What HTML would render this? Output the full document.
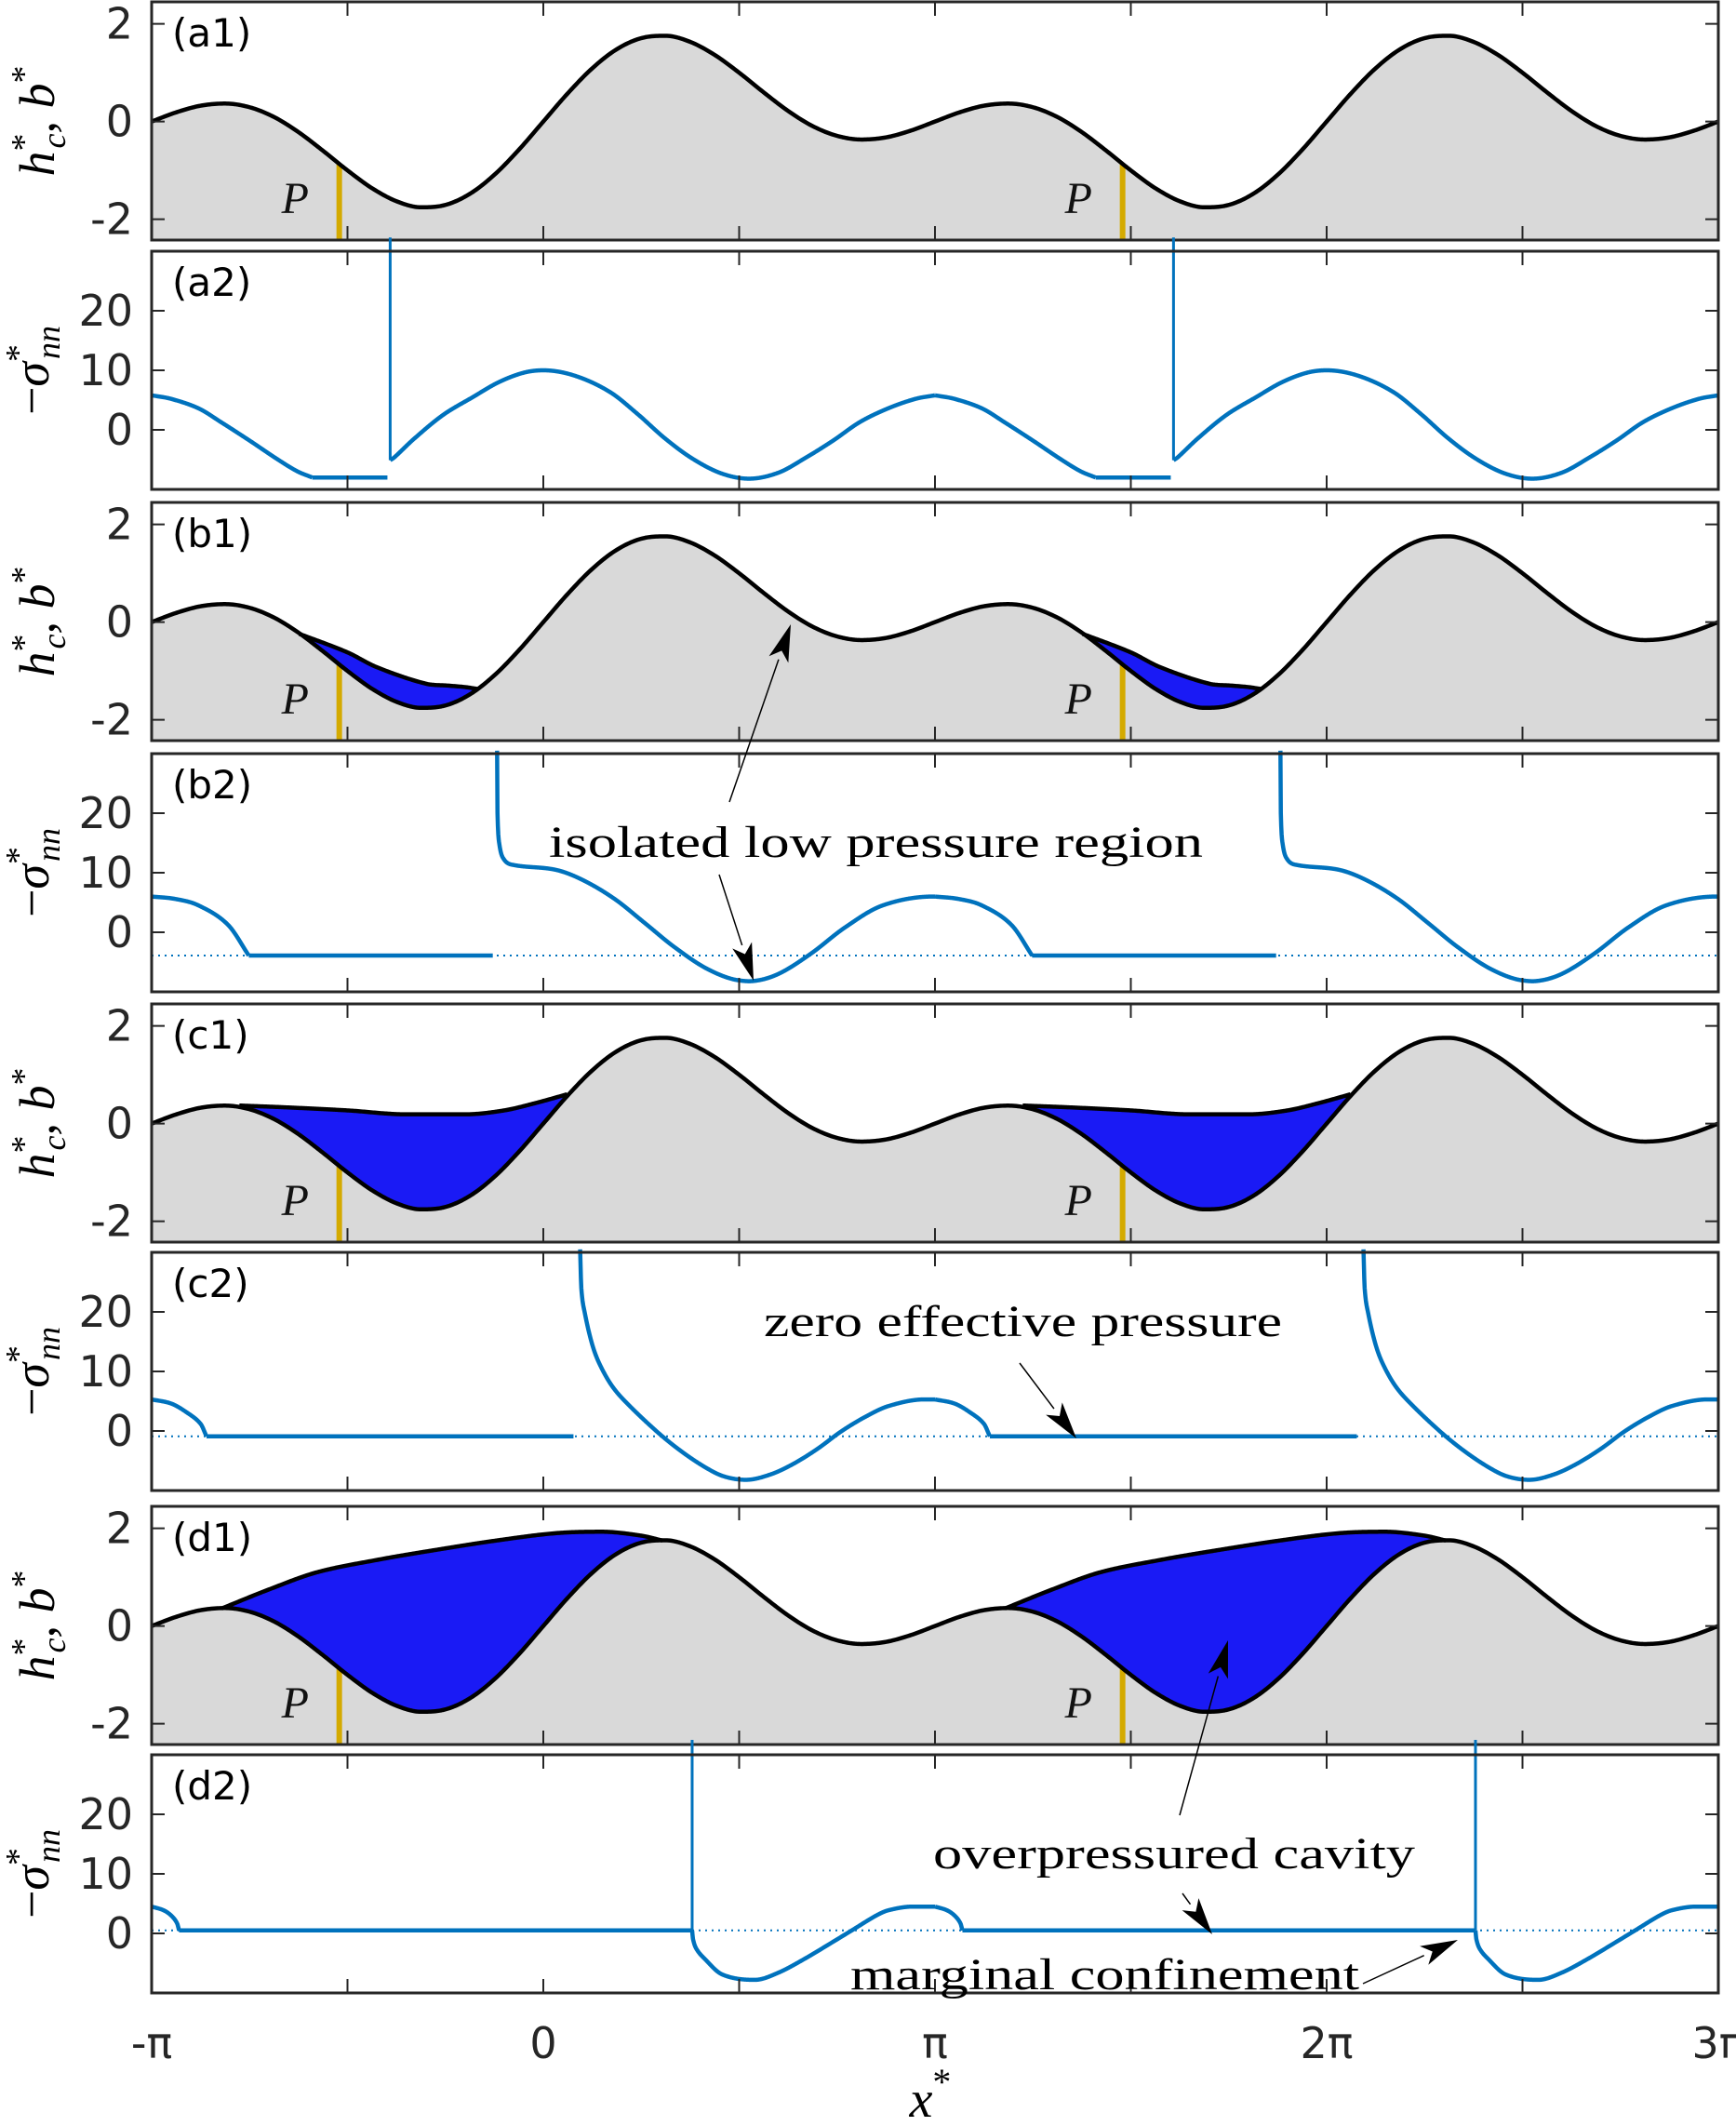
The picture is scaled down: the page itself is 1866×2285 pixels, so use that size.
<!DOCTYPE html>
<html><head><meta charset="utf-8"><style>
html,body{margin:0;padding:0;background:#fff;}
svg{display:block;}
</style></head><body>
<svg id="fig" width="1866" height="2285" viewBox="0 0 1866 2285" xmlns="http://www.w3.org/2000/svg"></svg>
<script>
// ---------- data (x in units of pi) ----------
const bedX = [];
for (let k = 0; k <= 64; k++) bedX.push(-1 + k / 16);
const bedY = [0,0.188,0.324,0.368,0.293,0.093,-0.217,-0.598,-1,-1.364,-1.631,-1.755,-1.707,-1.480,-1.090,-0.578,
  0,0.578,1.090,1.480,1.707,1.755,1.631,1.364,1,0.598,0.217,-0.093,-0.293,-0.368,-0.324,-0.188,
  0,0.188,0.324,0.368,0.293,0.093,-0.217,-0.598,-1,-1.364,-1.631,-1.755,-1.707,-1.480,-1.090,-0.578,
  0,0.578,1.090,1.480,1.707,1.755,1.631,1.364,1,0.598,0.217,-0.093,-0.293,-0.368,-0.324,-0.188,0];
const pointP = [-0.521, 1.479];
const periodShift = [0, 2];

const cavB1X = [-0.623,-0.5,-0.426,-0.3,-0.243,-0.2,-0.167];
const cavB1Y = [-0.24,-0.62,-0.92,-1.26,-1.30,-1.33,-1.37];
const cavC1X = [-0.776,-0.65,-0.5,-0.35,-0.2,-0.1,-0.02,0.061];
const cavC1Y = [0.37,0.33,0.27,0.19,0.19,0.27,0.42,0.60];
const cavD1X = [-0.821,-0.7,-0.578,-0.42,-0.273,-0.12,0.031,0.15,0.25,0.304];
const cavD1Y = [0.36,0.75,1.10,1.36,1.56,1.75,1.90,1.93,1.85,1.75];

const a2AX = [-1,-0.95,-0.88,-0.823,-0.75,-0.682,-0.63,-0.59];
const a2AY = [5.8,5.2,3.6,1.3,-1.8,-4.8,-6.9,-8.0];
const a2Flat = [-0.59,-0.398,-8.0];
const a2Spike = [-0.391,32.3,-5.1];
const a2BX = [-0.391,-0.38,-0.33,-0.256,-0.18,-0.114,-0.05,0,0.08,0.169,0.24,0.31,0.38,0.454,0.525,0.6,0.667,0.74,0.808,0.88,0.95,1.0];
const a2BY = [-5.1,-4.6,-1.5,2.5,5.5,8.0,9.6,10.0,9.1,6.4,2.7,-1.4,-4.8,-7.3,-8.2,-7.2,-4.8,-1.8,1.3,3.6,5.2,5.8];

const b2AX = [-1,-0.94,-0.88,-0.805,-0.752];
const b2AY = [6,5.6,4.5,1.25,-3.9];
const b2Flat = [-0.752,-0.129,-3.9];
const b2BX = [-0.118,-0.117,-0.112,-0.1,-0.076,0.031,0.1,0.182,0.26,0.335,0.42,0.502,0.533,0.6,0.683,0.77,0.866,0.995,1.0];
const b2BY = [30.5,20,14.7,12.2,11.3,10.5,8.8,5.6,1.5,-2.5,-6.2,-8.1,-8.2,-7.0,-3.6,0.8,4.5,6.0,6.0];
const b2Dot = -3.9;

const c2AX = [-1,-0.95,-0.91,-0.875,-0.86];
const c2AY = [5.3,4.6,3.1,1.2,-0.9];
const c2Flat = [-0.86,0.077,-0.9];
const c2BX = [0.094,0.097,0.106,0.125,0.144,0.175,0.213,0.29,0.35,0.411,0.46,0.517,0.58,0.639,0.7,0.76,0.82,0.882,0.973,1.0];
const c2BY = [30.5,24,19.8,14.5,11.2,7.6,4.7,-0.1,-3.3,-6.0,-7.6,-8.2,-7.3,-5.5,-3.0,-0.1,2.3,4.2,5.3,5.3];
const c2Dot = -0.9;

const d2AX = [-1,-0.97,-0.95,-0.935,-0.93];
const d2AY = [4.5,3.9,3.0,1.7,0.5];
const d2Flat = [-0.93,0.38,0.5];
const d2Spike = [0.38,32.5,0.5];
const d2BX = [0.38,0.382,0.39,0.411,0.457,0.54,0.6,0.669,0.73,0.79,0.85,0.882,0.943,1.0];
const d2BY = [0.5,-0.9,-2.5,-4.2,-6.9,-7.8,-6.6,-4.2,-1.8,0.6,3.0,3.9,4.5,4.5];
const d2Dot = 0.5;

const hTicks = [2,0,-2];
const hTickLabels = ['2','0','-2'];
const sTicks = [20,10,0];
const sTickLabels = ['20','10','0'];
const xTickLabels = ['-π','0','π','2π','3π'];

// ---------- layout ----------
const NS = 'http://www.w3.org/2000/svg';
const svg = document.getElementById('fig');
const X0 = 163, X1 = 1847, PH = 256;
const tops = [2,270,540,810,1079,1346,1619,1886];
const xpx = x => X0 + (x + 1) / 4 * (X1 - X0);
const hy = (top, v) => top + (2.45 - v) * 52.5;
const sy = (top, v) => top + (30 - v) * 6.4;

function el(tag, attrs, parent) {
  const e = document.createElementNS(NS, tag);
  for (const k in attrs) e.setAttribute(k, attrs[k]);
  (parent || svg).appendChild(e);
  return e;
}
function interp(xs, ys) {
  const n = xs.length, d = [], m = new Array(n);
  for (let i = 0; i < n - 1; i++) d.push((ys[i+1]-ys[i])/(xs[i+1]-xs[i]));
  m[0] = d[0]; m[n-1] = d[n-2];
  for (let i = 1; i < n - 1; i++) m[i] = (ys[i+1]-ys[i-1])/(xs[i+1]-xs[i-1]);
  for (let i = 0; i < n - 1; i++) {
    if (d[i] === 0) { m[i] = 0; m[i+1] = 0; continue; }
    const a = m[i]/d[i], b = m[i+1]/d[i];
    if (a < 0) m[i] = 0;
    if (b < 0) m[i+1] = 0;
    const s = a*a + b*b;
    if (s > 9) { const t = 3/Math.sqrt(s); m[i] = t*a*d[i]; m[i+1] = t*b*d[i]; }
  }
  return function (x) {
    let i = 0;
    if (x <= xs[0]) return ys[0];
    if (x >= xs[n-1]) return ys[n-1];
    while (i < n - 2 && x > xs[i+1]) i++;
    const h = xs[i+1]-xs[i], t = (x - xs[i]) / h;
    const t2 = t*t, t3 = t2*t;
    return (2*t3-3*t2+1)*ys[i] + (t3-2*t2+t)*h*m[i] + (-2*t3+3*t2)*ys[i+1] + (t3-t2)*h*m[i+1];
  };
}
function sample(xs, ys, off, yfn, step) {
  const f = interp(xs, ys); const pts = [];
  const a = xs[0], b = xs[xs.length-1];
  const N = Math.max(2, Math.ceil((b - a) / (step || 0.002)));
  for (let i = 0; i <= N; i++) {
    const x = a + (b - a) * i / N;
    if (x + off < -1.0001 || x + off > 3.0001) continue;
    pts.push([xpx(x + off), yfn(f(x))]);
  }
  return pts;
}
const toPath = pts => pts.map((p, i) => (i ? 'L' : 'M') + p[0].toFixed(2) + ' ' + p[1].toFixed(2)).join('');
const bedF = interp(bedX, bedY);

function frame(top, name) {
  const g = el('g', {});
  
  
  for (let k = 1; k < 8; k++) {
    const x = X0 + k * (X1 - X0) / 8;
    el('line', {x1:x, y1:top, x2:x, y2:top+15, stroke:'#262626', 'stroke-width':2}, g);
    el('line', {x1:x, y1:top+PH, x2:x, y2:top+PH-15, stroke:'#262626', 'stroke-width':2}, g);
  }
  el('rect', {x:X0, y:top, width:X1-X0, height:PH, fill:'none', stroke:'#262626', 'stroke-width':3}, g);
  return g;
}
function yTicks(top, vals, labels, fn, name) {
  for (let i = 0; i < vals.length; i++) {
    const y = fn(top, vals[i]);
    el('line', {x1:X0, y1:y, x2:X0+14, y2:y, stroke:'#262626', 'stroke-width':2});
    el('line', {x1:X1, y1:y, x2:X1-14, y2:y, stroke:'#262626', 'stroke-width':2});
    const t = el('text', {x:143, y:y+16, 'text-anchor':'end', 'font-family':'DejaVu Sans, sans-serif', 'font-size':46, fill:'#262626'});
    t.textContent = labels[i];
    
    
  }
}
function panelLabel(top, txt) {
  const t = el('text', {x:185, y:top+48, 'font-family':'DejaVu Sans, sans-serif', 'font-size':42, fill:'#000'});
  t.textContent = txt;
  
  
}
function yLabelH(top) {
  const t = el('text', {transform:'translate(58,' + (top+128) + ') rotate(-90)', 'text-anchor':'middle', 'font-family':'Liberation Serif, serif', 'font-style':'italic', 'font-size':54, fill:'#000'});
  t.innerHTML = 'h<tspan dy="-20" font-size="38" font-style="normal">*</tspan><tspan dy="32" dx="-16" font-size="36">c</tspan><tspan dy="-12">, b</tspan><tspan dy="-20" font-size="38" font-style="normal">*</tspan>';
  
  
}
function yLabelS(top) {
  const t = el('text', {transform:'translate(52,' + (top+128) + ') rotate(-90)', 'text-anchor':'middle', 'font-family':'Liberation Serif, serif', 'font-style':'italic', 'font-size':54, fill:'#000'});
  t.innerHTML = '<tspan font-style="normal">−</tspan>σ<tspan dy="-20" font-size="38" font-style="normal">*</tspan><tspan dy="32" dx="-16" font-size="36">nn</tspan>';
  
  
}

function bedPanel(top, label, cavX, cavY) {
  const fn = v => hy(top, v);
  const bedPts = sample(bedX, bedY, 0, fn, 0.004);
  const fill = el('path', {d: toPath(bedPts) + 'L' + X1 + ' ' + (top+PH) + 'L' + X0 + ' ' + (top+PH) + 'Z', fill:'#d9d9d9'});
  
  
  if (cavX) {
    for (const off of periodShift) {
      const topPts = sample(cavX, cavY, off, fn, 0.003);
      const back = [];
      const a = cavX[0], b = cavX[cavX.length-1];
      for (let i = 200; i >= 0; i--) { const x = a + (b - a) * i / 200; back.push([xpx(x + off), fn(bedF(x + off))]); }
      const c = el('path', {d: toPath(topPts.concat(back)) + 'Z', fill:'#1a1af5'});
      
      
    }
  }
  for (const px of pointP) {
    const l = el('line', {x1:xpx(px), y1:top+PH, x2:xpx(px), y2:fn(bedF(px)), stroke:'#d4aa00', 'stroke-width':6});
    
    
    const t = el('text', {x:xpx(px)-62, y:top+227, 'font-family':'Liberation Serif, serif', 'font-style':'italic', 'font-size':48, fill:'#111'});
    t.textContent = 'P';
    
    
  }
  if (cavX) {
    for (const off of periodShift) {
      const s = el('path', {d: toPath(sample(cavX, cavY, off, fn, 0.003)), fill:'none', stroke:'#000', 'stroke-width':4.5, 'stroke-linejoin':'round'});
      
      
    }
  }
  const line = el('path', {d: toPath(bedPts), fill:'none', stroke:'#000', 'stroke-width':4.5, 'stroke-linejoin':'round'});
  
  
  frame(top, label.replace(/[()]/g, ''));
  yTicks(top, hTicks, hTickLabels, hy, 'bed');
  panelLabel(top, label);
  yLabelH(top);
}

function stressPanel(top, label, AX, AY, flat, BX, BY, spike, dot) {
  const fn = v => sy(top, v);
  if (dot !== null) {
    const d = el('line', {x1:X0, y1:fn(dot), x2:X1, y2:fn(dot), stroke:'#0072bd', 'stroke-width':2, 'stroke-dasharray':'2 5'});
    
    
  }
  for (const off of periodShift) {
    const pieces = [];
    pieces.push(sample(AX, AY, off, fn, 0.002));
    if (flat[0] + off < 3) pieces.push([[xpx(flat[0]+off), fn(flat[2])], [xpx(Math.min(3, flat[1]+off)), fn(flat[2])]]);
    if (spike && spike[0] + off < 3) pieces.push([[xpx(spike[0]+off), fn(spike[1])], [xpx(spike[0]+off), fn(spike[2])]]);
    if (BX[0] + off < 3) pieces.push(sample(BX, BY, off, fn, 0.001));
    for (const p of pieces) {
      if (p.length < 2) continue;
      const w = (spike && p.length === 2 && p[0][0] === p[1][0]) ? 3 : 4.5;
      const s = el('path', {d: toPath(p), fill:'none', stroke:'#0072bd', 'stroke-width':w, 'stroke-linejoin':'round'});
      
      
    }
  }
  frame(top, label.replace(/[()]/g, ''));
  yTicks(top, sTicks, sTickLabels, sy, 'stress');
  panelLabel(top, label);
  yLabelS(top);
}

bedPanel(tops[0], '(a1)', null, null);
stressPanel(tops[1], '(a2)', a2AX, a2AY, a2Flat, a2BX, a2BY, a2Spike, null);
bedPanel(tops[2], '(b1)', cavB1X, cavB1Y);
stressPanel(tops[3], '(b2)', b2AX, b2AY, b2Flat, b2BX, b2BY, null, b2Dot);
bedPanel(tops[4], '(c1)', cavC1X, cavC1Y);
stressPanel(tops[5], '(c2)', c2AX, c2AY, c2Flat, c2BX, c2BY, null, c2Dot);
bedPanel(tops[6], '(d1)', cavD1X, cavD1Y);
stressPanel(tops[7], '(d2)', d2AX, d2AY, d2Flat, d2BX, d2BY, d2Spike, d2Dot);

// x tick labels
for (let i = 0; i < xTickLabels.length; i++) {
  const t = el('text', {x: X0 + i * (X1 - X0) / 4, y: 2212, 'text-anchor':'middle', 'font-family':'DejaVu Sans, Liberation Serif, serif', 'font-size':46, fill:'#262626'});
  t.textContent = xTickLabels[i];
  
  
}
const xl = el('text', {x:1000, y:2275, 'text-anchor':'middle', 'font-family':'Liberation Serif, serif', 'font-style':'italic', 'font-size':56, fill:'#000'});
xl.innerHTML = 'x<tspan dy="-24" font-size="40" font-style="normal">*</tspan>';



// annotations
function annot(txt, x, y, len, name) {
  const t = el('text', {x:x, y:y, 'font-family':'Liberation Serif, serif', 'font-size':48, fill:'#000', textLength:len, lengthAdjust:'spacingAndGlyphs'});
  t.textContent = txt;
  
  
}
function arrow(x1, y1, x2, y2) {
  const g = el('g', {});
  
  
  const dx = x2 - x1, dy = y2 - y1, L = Math.hypot(dx, dy), ux = dx / L, uy = dy / L;
  const hl = 40, hw = 11;
  const bx = x2 - ux * hl, by = y2 - uy * hl;
  el('line', {x1:x1, y1:y1, x2:bx, y2:by, stroke:'#000', 'stroke-width':1.5}, g);
  el('polygon', {points: x2 + ',' + y2 + ' ' + (bx - uy*hw) + ',' + (by + ux*hw) + ' ' + (bx + ux*10) + ',' + (by + uy*10) + ' ' + (bx + uy*hw) + ',' + (by - ux*hw), fill:'#000'}, g);
}
annot('isolated low pressure region', 590, 921, 703, 'annotation-isolated-low-pressure');
arrow(784, 862, 850, 671);
arrow(773, 940, 810, 1054);
annot('zero effective pressure', 821, 1436, 557, 'annotation-zero-effective-pressure');
arrow(1096, 1465, 1157, 1546);
annot('overpressured cavity', 1003, 2008, 518, 'annotation-overpressured-cavity');
arrow(1268, 1951, 1320, 1763);
arrow(1271, 2035, 1303, 2079);
annot('marginal confinement', 914, 2138, 547, 'annotation-marginal-confinement');
arrow(1465, 2132, 1567, 2085);
</script>
</body></html>
